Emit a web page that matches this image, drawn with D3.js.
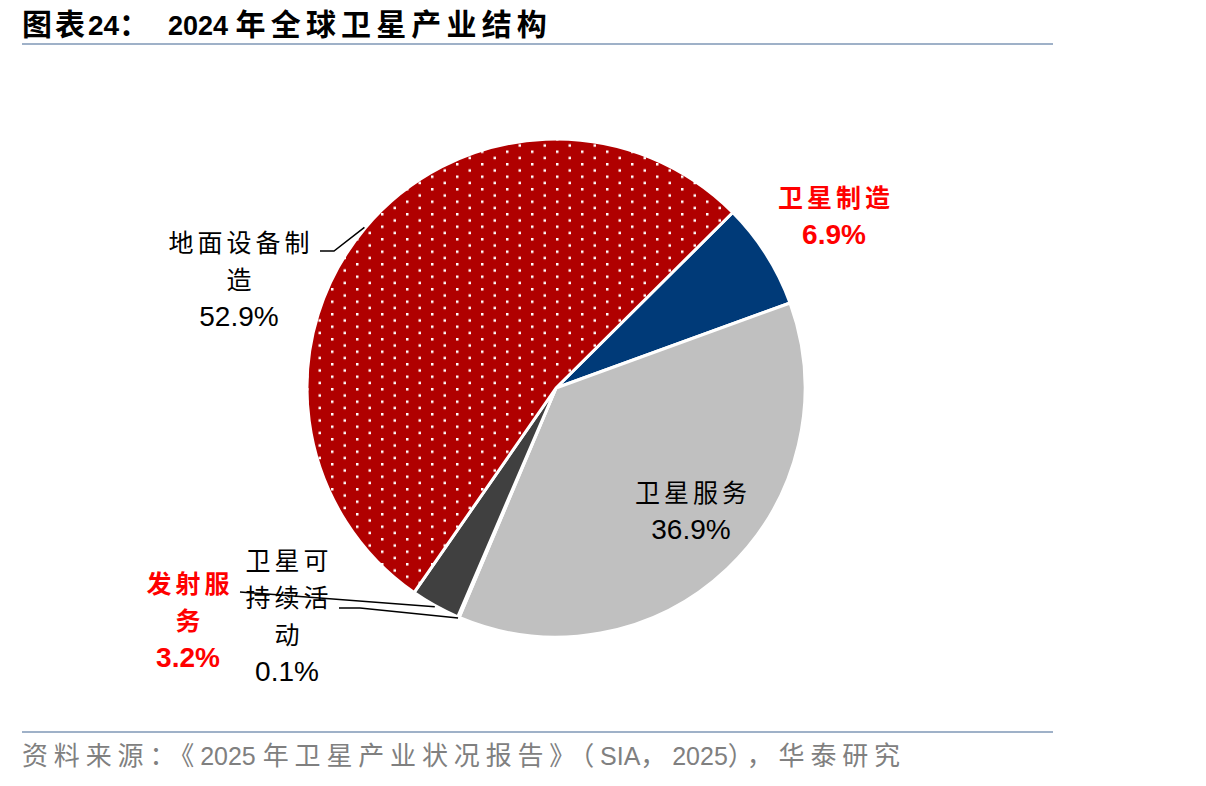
<!DOCTYPE html>
<html>
<head>
<meta charset="utf-8">
<style>
  body { margin: 0; background: #fff; }
  svg { display: block; }
  .cjk { font-family: "Noto Sans CJK SC", "Liberation Sans", sans-serif; }
  .num { font-family: "Liberation Sans", Arial, sans-serif; }
</style>
<script src="https://cdn.jsdelivr.net/npm/d3@7/dist/d3.min.js"></script>
</head>
<body>
<script>
// data
var categories = ["卫星制造", "卫星服务", "卫星可持续活动", "发射服务", "地面设备制造"];
var shares = [6.9, 36.9, 0.1, 3.2, 52.9];
var labelLines = [
  ["卫星制造", "6.9%"],
  ["卫星服务", "36.9%"],
  ["卫星可", "持续活", "动", "0.1%"],
  ["发射服", "务", "3.2%"],
  ["地面设备制", "造", "52.9%"]
];
var titleHead = "图表24：";
var titleMain = "2024 年全球卫星产业结构";
var sourceText = "资料来源：《2025 年卫星产业状况报告》（SIA，2025），华泰研究";

var width = 1206, height = 786;
var cx = 556, cy = 388, R = 249;
var colors = ["#003a78", "#c0c0c0", "#404040", "#404040", "#b00000"];
var labelColor = ["#ff0000", "#000", "#000", "#ff0000", "#000"];
var labelBold = [true, false, false, true, false];
// label anchor: [x, y of first line]
var labelPos = [[834, 207], [691, 502], [287, 570], [188, 593], [239, 252]];
// leader line elbows (label side), null if no line
var leaderStart = [null, null, [[339, 608], [360, 608]], [[240, 592]], [[320, 251], [334, 251]]];

var svg = d3.select("body").append("svg")
  .attr("width", width)
  .attr("height", height);

// split into ascii / cjk runs, spread the cjk runs so the line spans x0..x1
function fitText(sel, str, x0, x1, cjkSize, latinSize) {
  var runs = str.match(/[\x20-\x7e]+|[^\x20-\x7e]+/g);
  var spans = runs.map(function(r) {
    var cjk = /[^\x20-\x7e]/.test(r);
    return sel.append("tspan")
      .attr("class", cjk ? "cjk" : "num")
      .attr("font-size", cjk ? cjkSize : latinSize)
      .style("white-space", "pre")
      .text(r)
      .datum({cjk: cjk, n: r.length});
  });
  sel.attr("x", x0);
  var natural = sel.node().getComputedTextLength();
  var n = d3.sum(spans, function(s) { return s.datum().cjk ? s.datum().n : 0; });
  var ls = Math.max(0, (x1 - x0 - natural) / n);
  spans.forEach(function(s) {
    if (s.datum().cjk) s.style("letter-spacing", ls + "px");
  });
}

var defs = svg.append("defs");
var pat = defs.append("pattern")
  .attr("id", "dots")
  .attr("patternUnits", "userSpaceOnUse")
  .attr("width", 25)
  .attr("height", 12.5);
pat.append("rect").attr("width", 25).attr("height", 12.5).attr("fill", "#b00000");
pat.append("rect").attr("x", 0).attr("y", 0).attr("width", 2.5).attr("height", 2.5).attr("fill", "#fff");
pat.append("rect").attr("x", 12.5).attr("y", 6.25).attr("width", 2.5).attr("height", 2.5).attr("fill", "#fff");

// title
var t1 = svg.append("text").attr("y", 35).attr("font-weight", "bold");
fitText(t1, titleHead, 22, 152, 30, 28);
var t2 = svg.append("text").attr("y", 35).attr("font-weight", "bold");
fitText(t2, titleMain, 168, 552, 30, 27);
svg.append("line")
  .attr("x1", 22).attr("x2", 1053).attr("y1", 44).attr("y2", 44)
  .attr("stroke", "#9fb1c8").attr("stroke-width", 2);

// pie
var pie = d3.pie().sort(null).value(function(d) { return d; })
  .startAngle(45.2 * Math.PI / 180)
  .endAngle(45.2 * Math.PI / 180 + 2 * Math.PI);
var arc = d3.arc().innerRadius(0).outerRadius(R);
var arcs = pie(shares);

var g = svg.append("g").attr("transform", "translate(" + cx + "," + cy + ")");
g.selectAll("path.slice")
  .data(arcs)
  .enter().append("path")
  .attr("class", "slice")
  .attr("d", arc)
  .attr("fill", function(d, i) { return i === 4 ? "url(#dots)" : colors[i]; })
  .attr("stroke", "#fff")
  .attr("stroke-width", 3)
  .attr("stroke-linejoin", "round");

// leader lines
arcs.forEach(function(d, i) {
  if (!leaderStart[i]) return;
  var mid = (d.startAngle + d.endAngle) / 2;
  var end = [cx + Math.sin(mid) * (R + 1), cy - Math.cos(mid) * (R + 1)];
  var pts = leaderStart[i].concat([end]);
  svg.append("path")
    .attr("d", d3.line()(pts))
    .attr("fill", "none")
    .attr("stroke", "#000")
    .attr("stroke-width", 1.5);
});

// labels
labelLines.forEach(function(lines, i) {
  var t = svg.append("text")
    .attr("text-anchor", "middle")
    .attr("fill", labelColor[i])
    .attr("font-weight", labelBold[i] ? "bold" : "normal");
  lines.forEach(function(s, j) {
    var isNum = /%$/.test(s);
    var ls = isNum ? 0 : 4;
    t.append("tspan")
      .attr("class", isNum ? "num" : "cjk")
      .attr("x", labelPos[i][0] + ls / 2)
      .attr("y", labelPos[i][1] + j * 37)
      .attr("font-size", isNum ? 28 : 25)
      .style("letter-spacing", ls + "px")
      .text(s);
  });
});

// source
svg.append("line")
  .attr("x1", 22).attr("x2", 1053).attr("y1", 732).attr("y2", 732)
  .attr("stroke", "#9fb1c8").attr("stroke-width", 2);
var src = svg.append("text")
  .attr("y", 765)
  .attr("fill", "#808080");
fitText(src, sourceText, 22, 906, 26, 25);
</script>
</body>
</html>
